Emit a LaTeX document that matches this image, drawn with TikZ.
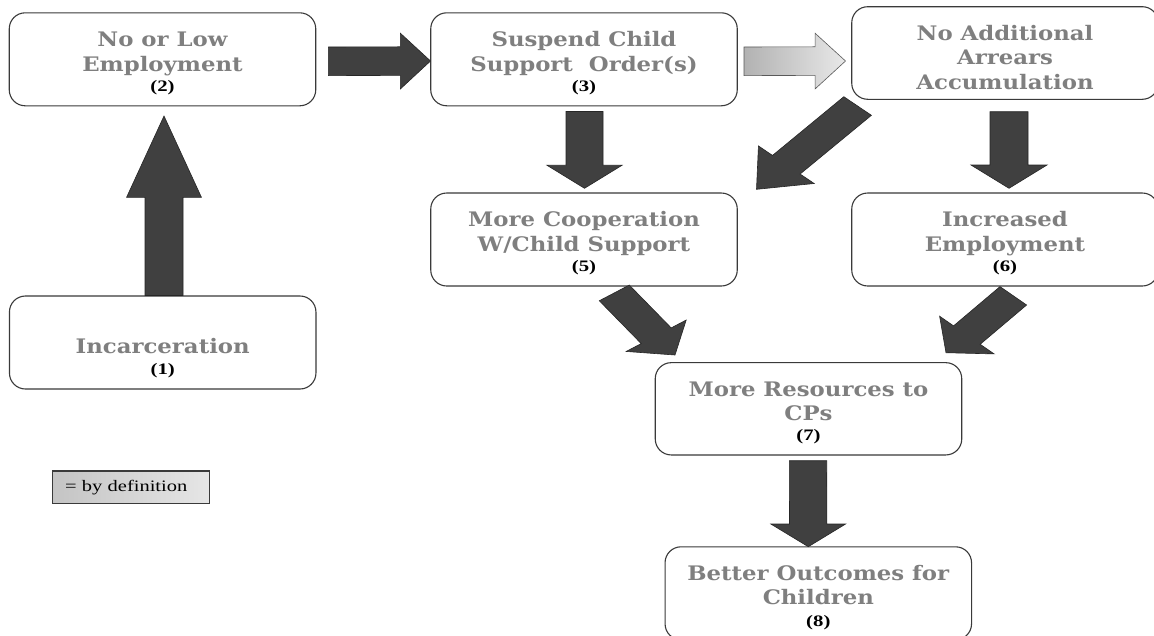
\documentclass[tikz,border=0pt]{standalone}
\usepackage{fontspec}
\usetikzlibrary{calc}
\newfontfamily\titlefont[FakeStretch=1.14]{DejaVu Serif}
\newfontfamily\numfont[FakeStretch=1.3]{Liberation Serif}
\newfontfamily\legfont[FakeStretch=1.28]{Liberation Serif}
\definecolor{txtgray}{HTML}{7F7F7F}
\definecolor{arrowfill}{HTML}{404040}
\definecolor{boxline}{HTML}{3A3A3A}
\definecolor{gradL}{HTML}{B2B2B2}
\definecolor{gradR}{HTML}{E8E8E8}
\definecolor{legL}{HTML}{C4C4C4}
\definecolor{legR}{HTML}{E6E6E6}
\newcommand{\numtxt}[1]{{\numfont\bfseries\fontsize{16}{18}\selectfont\color{black}#1}}
% block arrow: style, tail centre, tip, half-width vector, head-base fraction, head factor
\newcommand{\blockarrow}[6]{%
  \path[#1] ($(#2)+(#4)$) -- ($(#2)!#5!(#3)+(#4)$) -- ($(#2)!#5!(#3)+#6*(#4)$) -- (#3)
    -- ($(#2)!#5!(#3)-#6*(#4)$) -- ($(#2)!#5!(#3)-(#4)$) -- ($(#2)-(#4)$) -- cycle;}
\tikzset{
  boxtext/.style={align=center, text=txtgray, inner sep=0pt,
    font=\titlefont\bfseries\fontsize{20}{24.5}\selectfont},
  box/.style={draw=boxline, line width=1.1pt, rounded corners=16pt, fill=white,
    minimum width=306.5pt, minimum height=93pt, inner sep=0pt},
  darrow/.style={fill=arrowfill, draw=black!85, line width=0.6pt},
  garrow/.style={left color=gradL, right color=gradR, draw=black!65, line width=0.6pt},
  legbox/.style={left color=legL, right color=legR, draw=boxline, line width=1.3pt,
    minimum height=32.3pt, text width=131.6pt, inner xsep=12.7pt, inner ysep=0pt, align=left,
    font=\legfont\fontsize{16}{18}\selectfont}
}
\begin{document}
\begin{tikzpicture}[x=1pt,y=-1pt]
\path[use as bounding box, fill=white] (0,0) rectangle (1154,635);

% boxes
\node[box] (b1) at (162.7,342.5) {};
\node[box] (b2) at (162.5,59.3) {};
\node[box] (b3) at (584,59.3) {};
\node[box, minimum height=92.6pt] (b4) at (1005,53) {};
\node[box] (b5) at (584,239.5) {};
\node[box] (b6) at (1005,239.5) {};
\node[box, minimum height=92.3pt] (b7) at (808.5,408.8) {};
\node[box] (b8) at (818.3,593.3) {};

% box texts
\node[boxtext] (t1) at ($(b1.center)+(0,15.5)$) {Incarceration\\[-4pt]\numtxt{(1)}};
\node[boxtext] (t2) at ($(b2.center)+(0,4)$) {No or Low\\Employment\\[-4.5pt]\numtxt{(2)}};
\node[boxtext] (t3) at ($(b3.center)+(0,4)$) {Suspend Child\\Support\ \ Order(s)\\[-4.5pt]\numtxt{(3)}};
\node[boxtext] (t4) at ($(b4.center)+(0,4.5)$) {No Additional\\Arrears\\Accumulation};
\node[boxtext] (t5) at ($(b5.center)+(0,4)$) {More Cooperation\\W/Child Support\\[-4pt]\numtxt{(5)}};
\node[boxtext] (t6) at ($(b6.center)+(0,3.5)$) {Increased\\Employment\\[-4.5pt]\numtxt{(6)}};
\node[boxtext] (t7) at ($(b7.center)+(0,4)$) {More Resources to\\CPs\\[-4.5pt]\numtxt{(7)}};
\node[boxtext] (t8) at ($(b8.center)+(0,4)$) {Better Outcomes for\\Children\\[-3pt]\numtxt{(8)}};

% legend
\node[legbox] (leg) at (130.8,487.2) {= by definition};

% arrow end points
\coordinate (a12t) at (164,295.5);  \coordinate (a12h) at (164,116);
\coordinate (a23t) at (328.3,61.3); \coordinate (a23h) at (430.5,61);
\coordinate (a34t) at (744,61.3);   \coordinate (a34h) at (845.5,61);
\coordinate (a35t) at (584.5,111.5);\coordinate (a35h) at (584.5,188.3);
\coordinate (a46t) at (1009,111.7); \coordinate (a46h) at (1009,188.3);
\coordinate (a45t) at (857.6,106);  \coordinate (a45h) at (756.5,189.3);
\coordinate (a57t) at (614.3,292.9);\coordinate (a57h) at (675,355);
\coordinate (a67t) at (1013.3,295.8);\coordinate (a67h) at (946,352.7);
\coordinate (a78t) at (808,460.7);  \coordinate (a78h) at (808.3,546.7);

% block arrows
\blockarrow{darrow}{a12t}{a12h}{19,0}{0.547}{1.97}
\blockarrow{darrow}{a23t}{a23h}{0,14.3}{0.705}{1.95}
\blockarrow{garrow}{a34t}{a34h}{0,14.3}{0.70}{1.95}
\blockarrow{darrow}{a35t}{a35h}{18.5,0}{0.70}{2.03}
\blockarrow{darrow}{a46t}{a46h}{19,0}{0.696}{2.0}
\blockarrow{darrow}{a45t}{a45h}{13.8,9.3}{0.705}{2.02}
\blockarrow{darrow}{a57t}{a57h}{15,-7.85}{0.69}{2.0}
\blockarrow{darrow}{a67t}{a67h}{13.3,9.2}{0.69}{2.05}
\blockarrow{darrow}{a78t}{a78h}{18.7,0}{0.736}{2.0}
\end{tikzpicture}
\end{document}
